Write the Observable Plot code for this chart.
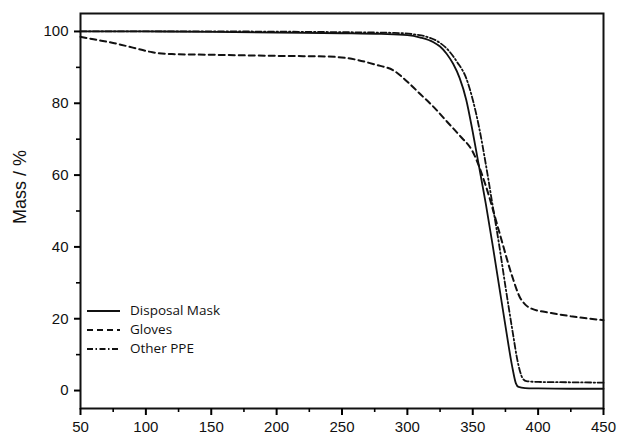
<!DOCTYPE html>
<html><head><meta charset="utf-8">
<script src="https://cdn.jsdelivr.net/npm/d3@7"></script>
<script src="https://cdn.jsdelivr.net/npm/@observablehq/plot@0.6"></script>
<style>
body{margin:0;background:#fff;}
#wrap{position:relative;width:618px;height:436px;}
#wrap svg text{font-family:"Liberation Sans",Arial,sans-serif;}
#legend{position:absolute;left:86px;top:301px;font-family:"Open Sans",sans-serif;font-size:13.5px;color:#111;line-height:19px;}
#legend div{display:flex;align-items:center;height:19px;}
#legend svg{margin-right:9px;}
</style></head><body><div id="wrap"><div id="legend"></div></div>
<script>
const seriesNames = ["Disposal Mask", "Gloves", "Other PPE"];
const maskT = [50, 100, 150, 200, 250, 280, 300, 310, 320, 325, 330, 335, 340, 345, 350, 355, 360, 365, 370, 375, 380, 383, 385, 390, 400, 425, 450];
const maskM = [100, 100, 99.9, 99.7, 99.5, 99.3, 99, 98.3, 97, 95.8, 93.8, 91, 87, 81, 72, 62, 52, 41, 29.5, 18, 7, 2, 1, 0.7, 0.6, 0.5, 0.5];
const glovesT = [50, 60, 75, 90, 105, 120, 150, 200, 240, 260, 275, 290, 300, 310, 320, 330, 340, 350, 360, 370, 380, 386, 390, 395, 410, 425, 450];
const glovesM = [98.5, 97.8, 96.8, 95.5, 94.2, 93.7, 93.5, 93.2, 93, 92.2, 90.8, 89, 86, 82.5, 79, 75, 71, 66.5, 57, 44.5, 32, 26, 24, 22.8, 21.6, 20.7, 19.6];
const ppeT = [50, 150, 250, 290, 305, 315, 325, 332, 338, 345, 350, 355, 360, 365, 370, 375, 380, 385, 388, 391, 400, 425, 450];
const ppeM = [100, 100, 99.8, 99.6, 99.2, 98.5, 96.8, 94.5, 91.5, 87, 81, 73, 63, 52, 41, 29, 17.5, 7, 3.5, 2.6, 2.4, 2.3, 2.2];
const xTicks = [50, 100, 150, 200, 250, 300, 350, 400, 450];
const xMinor = [75, 125, 175, 225, 275, 325, 375, 425];
const yTicks = [0, 20, 40, 60, 80, 100];
const yMinor = [10, 30, 50, 70, 90];
const yLabel = "Mass / %";

const zip = (T, M) => T.map((t, i) => ({t, m: M[i]}));
const mask = zip(maskT, maskM), gloves = zip(glovesT, glovesM), ppe = zip(ppeT, ppeM);
const dashes = [null, "6,4", "6,2.5,1.5,2.5"];
const widths = [1.8, 2, 1.8];
const ink = "#111";

const chart = Plot.plot({
  width: 618, height: 436,
  marginLeft: 80, marginRight: 15, marginTop: 13, marginBottom: 28,
  x: {domain: [50, 450]},
  y: {domain: [-5, 105]},
  style: {fontSize: "15px", color: ink, background: "white"},
  marks: [
    Plot.line(mask, {x: "t", y: "m", stroke: ink, strokeWidth: widths[0], curve: "monotone-x"}),
    Plot.line(gloves, {x: "t", y: "m", stroke: ink, strokeWidth: widths[1], strokeDasharray: dashes[1], curve: "monotone-x"}),
    Plot.line(ppe, {x: "t", y: "m", stroke: ink, strokeWidth: widths[2], strokeDasharray: dashes[2], curve: "monotone-x"}),
    Plot.frame({stroke: ink, strokeWidth: 2}),
    Plot.axisX({ticks: xTicks, tickSize: 7, text: null, stroke: "black", strokeWidth: 2, label: null}),
    Plot.axisX({ticks: xTicks, tickSize: 0, tickPadding: 13, label: null, fontSize: 15, fill: ink}),
    Plot.axisX({ticks: xMinor, tickSize: 4, text: null, stroke: "black", strokeWidth: 1.6, label: null}),
    Plot.axisY({ticks: yTicks, tickSize: 6, text: null, stroke: "black", strokeWidth: 2, label: null}),
    Plot.axisY({ticks: yTicks, tickSize: 0, tickPadding: 12, label: null, fontSize: 15, fill: ink}),
    Plot.axisY({ticks: yMinor, tickSize: 4, text: null, stroke: "black", strokeWidth: 1.6, label: null}),
    Plot.text([yLabel], {frameAnchor: "left", rotate: -90, dx: -60, dy: 13, fontSize: 18, fill: ink})
  ]
});
document.getElementById("wrap").prepend(chart);

const leg = document.getElementById("legend");
seriesNames.forEach((name, i) => {
  const row = document.createElement("div");
  row.innerHTML = `<svg width="35" height="6"><line x1="1" x2="34" y1="3" y2="3" stroke="${ink}" stroke-width="${widths[i]}" ${dashes[i] ? `stroke-dasharray="${dashes[i]}"` : ""}/></svg><span>${name}</span>`;
  leg.appendChild(row);
});
</script></body></html>
